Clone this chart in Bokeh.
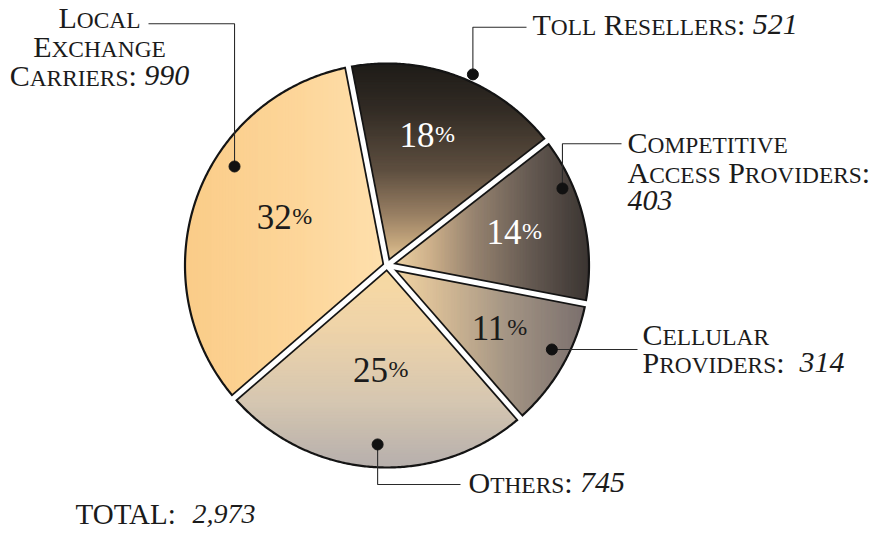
import numpy as np
from bokeh.plotting import figure
from bokeh.models import Range1d, ColumnDataSource
from bokeh.core.properties import value
from bokeh.embed import file_html
from bokeh.resources import INLINE

# ---------------- data ----------------
categories = ["Toll Resellers", "Competitive Access Providers", "Cellular Providers",
              "Others", "Local Exchange Carriers"]
counts = [521, 403, 314, 745, 990]
pct_labels = ["18", "14", "11", "25", "32"]
total_label = "TOTAL:"

# ---------------- layout / style ----------------
CX, CY, R = 386.5, 265.0, 202.0
START = 101.0          # degrees, counter-clockwise from east; slices run clockwise
FONT = "Liberation Serif"
TXT = "#1b1b1b"
S = 30                 # label font size (px)
SMALL = 0.78           # small-caps factor
BASE_FIX = 0.36        # renderer baseline correction (fraction of font size)

grad = {
    "Toll Resellers": ("y", [(58, "#1c1a17"), (110, "#332c25"), (170, "#5e4f40"),
                             (215, "#9a8064"), (245, "#c9ab80"), (268, "#f0d6a6")]),
    "Competitive Access Providers": ("x", [(388, "#f3d8a8"), (430, "#cdb08a"), (475, "#95826f"),
                                           (530, "#655a52"), (590, "#3a3431")]),
    "Cellular Providers": ("x", [(390, "#f4d6a4"), (445, "#d2b894"), (505, "#a59685"),
                                 (586, "#7a6f6d")]),
    "Others": ("y", [(266, "#f9daa3"), (330, "#eed3a9"), (400, "#d6c7b1"), (470, "#b5aeac")]),
    "Local Exchange Carriers": ("x", [(182, "#fbcc88"), (300, "#fdd69a"), (388, "#fee0ae")]),
}
pct_color = {"Toll Resellers": "#ffffff", "Competitive Access Providers": "#ffffff"}
# label placement: (radius px, angle tweak deg)
pct_place = {"Toll Resellers": (135, 3.3), "Competitive Access Providers": (131, 0.7),
             "Cellular Providers": (129, 0.3), "Others": (106, 0.5),
             "Local Exchange Carriers": (113, -5.4)}

# callout text layout: template, align, x, baselines
callouts = {
    "Local Exchange Carriers": ("Local|Exchange|Carriers: {n}", "center", 99, [28, 57, 86]),
    "Toll Resellers": ("Toll Resellers: {n}", "left", 532, [35]),
    "Competitive Access Providers": ("Competitive|Access Providers:|{n}", "left", 627, [153, 183, 211]),
    "Cellular Providers": ("Cellular|Providers:  {n}", "left", 642, [345, 373]),
    "Others": ("Others: {n}", "left", 468, [493]),
}
# leader: dot polar (angle deg, radius px), then path of pixel points
leaders = {
    "Local Exchange Carriers": ((147.0, 181.8), [(None, 23.3), (148, 23.3)]),
    "Toll Resellers": ((65.8, 209.5), [(None, 26.7), (526, 26.7)]),
    "Competitive Access Providers": ((23.7, 191.6), [(None, 143.3), (621, 143.3)]),
    "Cellular Providers": ((-27.0, 185.0), [(637, None)]),
    "Others": ((-93.0, 179.2), [(None, 484), (460, 484)]),
}

# Times/Liberation Serif advance widths (1/1000 em)
W = dict(zip("ABCDEFGHIJKLMNOPQRSTUVWXYZ",
             [722, 667, 667, 722, 611, 556, 722, 722, 333, 389, 722, 611, 889, 722, 722, 556,
              722, 667, 556, 611, 722, 722, 944, 722, 722, 611]))
W.update({" ": 250, ":": 278, ",": 250, "%": 833})
W.update({d: 500 for d in "0123456789"})
WI = {d: 500 for d in "0123456789"}
WI.update({",": 250, ":": 333, " ": 250})


def text_width(t, size, italic=False):
    tab = WI if italic else W
    return sum(tab.get(c, 500) for c in t) * size / 1000.0


def hex2rgb(h):
    h = h.lstrip("#")
    return np.array([int(h[i:i + 2], 16) for i in (0, 2, 4)], dtype=float)


def interp_color(stops, v):
    pos = [s[0] for s in stops]
    cols = np.array([hex2rgb(s[1]) for s in stops])
    rgb = [np.interp(v, pos, cols[:, k]) for k in range(3)]
    return "#%02x%02x%02x" % tuple(int(round(c)) for c in rgb)


def clip_half(poly, axis, c, keep_greater):
    out = []
    n = len(poly)
    for i in range(n):
        P, Q = poly[i], poly[(i + 1) % n]
        pin = P[axis] >= c if keep_greater else P[axis] <= c
        qin = Q[axis] >= c if keep_greater else Q[axis] <= c
        if pin:
            out.append(P)
        if pin != qin:
            t = (c - P[axis]) / (Q[axis] - P[axis])
            out.append((P[0] + t * (Q[0] - P[0]), P[1] + t * (Q[1] - P[1])))
    return out


def pt(angle_deg, r):
    a = np.radians(angle_deg)
    return CX + r * np.cos(a), CY - r * np.sin(a)


# ---------------- figure ----------------
p = figure(width=888, height=537, x_range=Range1d(0, 888), y_range=Range1d(537, 0),
           toolbar_location=None, output_backend="svg", min_border=0,
           x_axis_type=None, y_axis_type=None)
p.grid.visible = False
p.outline_line_color = None
p.background_fill_color = "white"
p.border_fill_color = "white"

total = float(sum(counts))
sweeps = [c / total * 360.0 for c in counts]
bounds = [START]
for sw in sweeps:
    bounds.append(bounds[-1] - sw)

# gradient fills as thin strips clipped to each slice
gx, gy, gc = [], [], []
outline_x, outline_y = [], []
for i, cat in enumerate(categories):
    a0, a1 = bounds[i], bounds[i + 1]
    angs = np.linspace(a0, a1, max(int(abs(a1 - a0) * 2), 8))
    poly = [(CX, CY)] + [pt(a, R) for a in angs]
    outline_x.append([q[0] for q in poly])
    outline_y.append([q[1] for q in poly])
    axis_name, stops = grad[cat]
    ax = 0 if axis_name == "x" else 1
    lo = min(q[ax] for q in poly)
    hi = max(q[ax] for q in poly)
    step = 1.5
    v = lo
    while v < hi:
        piece = clip_half(poly, ax, v, True)
        if piece:
            piece = clip_half(piece, ax, v + step + 0.6, False)
        if len(piece) >= 3:
            gx.append([q[0] for q in piece])
            gy.append([q[1] for q in piece])
            gc.append(interp_color(stops, v + step / 2))
        v += step

p.patches(xs="xs", ys="ys", source=ColumnDataSource(dict(xs=gx, ys=gy, c=gc)),
          fill_color="c", line_color="c", line_width=0.4)

# slice outlines
p.patches(xs=outline_x, ys=outline_y, fill_alpha=0, line_color="#141414", line_width=2.2,
          line_join="round")

# separators: black band with white core
sx0, sy0, sx1, sy1, wx1, wy1 = [], [], [], [], [], []
for b in bounds[:-1]:
    x1, y1 = pt(b, R)
    x2, y2 = pt(b, R + 6)
    sx0.append(CX); sy0.append(CY); sx1.append(x1); sy1.append(y1)
    wx1.append(x2); wy1.append(y2)
p.segment(x0=sx0, y0=sy0, x1=sx1, y1=sy1, line_color="#141414", line_width=8.5)
p.segment(x0=sx0, y0=sy0, x1=wx1, y1=wy1, line_color="white", line_width=5.0)

# leaders and dots
lx, ly, dx, dy = [], [], [], []
for cat in categories:
    (ang, rr), path = leaders[cat]
    x0, y0 = pt(ang, rr)
    xs, ys = [x0], [y0]
    for (px_, py_) in path:
        xs.append(xs[-1] if px_ is None else px_)
        ys.append(ys[-1] if py_ is None else py_)
    lx.append(xs); ly.append(ys)
    dx.append(x0); dy.append(y0)
p.multi_line(xs=lx, ys=ly, line_color="#2a2a2a", line_width=1.1)
p.scatter(x=dx, y=dy, size=11, fill_color="#111111", line_color="#111111")

# ---------------- text ----------------
runs = {}  # (size, style, color) -> dict(x, y, text)


def add_text(x, y, t, size, style="normal", color=TXT):
    key = (size, style, color)
    d = runs.setdefault(key, dict(x=[], y=[], text=[]))
    d["x"].append(x); d["y"].append(y - BASE_FIX * size); d["text"].append(t)


def smallcaps_tokens(s):
    toks = []  # (text, size, italic, draw)
    for wi, w in enumerate(s.split(" ")):
        if wi > 0:
            toks.append((" ", S, False, False))
        for ci, ch in enumerate(w):
            if ch.isalpha():
                sz = S if ci == 0 else round(S * SMALL, 1)
                toks.append((ch.upper(), sz, False, True))
            else:
                toks.append((ch, S, False, True))
    merged = []
    for t in toks:
        if merged and t[3] and merged[-1][3] and merged[-1][1] == t[1]:
            merged[-1] = (merged[-1][0] + t[0], t[1], False, True)
        else:
            merged.append(t)
    return merged


for i, cat in enumerate(categories):
    tmpl, align, x, baselines = callouts[cat]
    num = f"{counts[i]:,}"
    for line, base in zip(tmpl.split("|"), baselines):
        toks = []
        if "{n}" in line:
            before = line.split("{n}")[0]
            toks += smallcaps_tokens(before) if before else []
            toks.append((num, S, True, True))
        else:
            toks += smallcaps_tokens(line)
        widths = [text_width(t[0], t[1], t[2]) for t in toks]
        tw = sum(widths)
        cx = x - tw / 2 if align == "center" else x
        for t, wdt in zip(toks, widths):
            if t[3] and t[0].strip():
                add_text(cx, base, t[0], t[1], "italic" if t[2] else "normal")
            cx += wdt

# percentage labels
bis = [(bounds[i] + bounds[i + 1]) / 2 for i in range(len(categories))]
for i, cat in enumerate(categories):
    rr, da = pct_place[cat]
    mx, my = pt(bis[i] + da, rr)
    col = pct_color.get(cat, TXT)
    dsz, psz = 35, 24
    w1 = text_width(pct_labels[i], dsz)
    w2 = text_width("%", psz)
    x0 = mx - (w1 + w2) / 2
    base = my + 11
    add_text(x0, base, pct_labels[i], dsz, "normal", col)
    add_text(x0 + w1 + 0.5, base - 5, "%", psz, "normal", col)

# total
tsz = 29
add_text(75, 524, total_label, tsz)
add_text(192, 524, f"{int(total):,}", 28, "italic")

for (size, style, color), d in runs.items():
    p.text(x="x", y="y", text="text", source=ColumnDataSource(d),
           text_font=value(FONT), text_font_size=value(f"{size}px"),
           text_font_style=style, text_color=color,
           text_baseline="alphabetic", text_align="left")

open("out.html", "w").write(file_html(p, INLINE))
